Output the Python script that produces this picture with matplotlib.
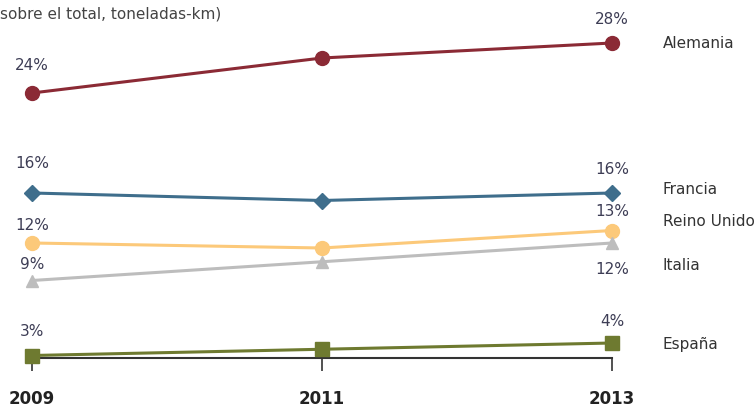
import matplotlib
matplotlib.use('Agg')
import matplotlib.pyplot as plt

plt.rcParams['font.family'] = ['Liberation Sans Narrow', 'DejaVu Sans']

years = [2009, 2011, 2013]
countries = ['Alemania', 'Francia', 'Reino Unido', 'Italia', 'España']
alemania = [24, 26.8, 28]
francia = [16, 15.4, 16]
reino_unido = [12, 11.6, 13]
italia = [9, 10.5, 12]
espana = [3, 3.5, 4]
series = [alemania, francia, reino_unido, italia, espana]
start_labels = ['24%', '16%', '12%', '9%', '3%']
end_labels = ['28%', '16%', '13%', '12%', '4%']

colors = ['#8b2a35', '#3f6e8c', '#fcc97a', '#bdbdbd', '#6e7a30']
markers = ['o', 'D', 'o', '^', 's']
msizes = [10, 8, 10, 8, 10]
# pixel offsets for value labels (start, end)
start_off = [27, 30, 18, 16, 24]
end_off = [24, 24, 19, -26, 22]
name_off = [0, 3, 9, -22, -1]

fig = plt.figure(figsize=(7.56, 4.12), dpi=100)
ax = fig.add_axes([0, 54 / 412, 1, 358 / 412])
ax.set_xlim(2009 - 32 / 145, 2009 + 756 / 145 - 32 / 145)
ax.set_ylim(2.8, 2.8 + 358 / 12.5)

for vals, c, m, ms, lab0, lab1, o0, o1, no, name in zip(
        series, colors, markers, msizes, start_labels, end_labels,
        start_off, end_off, name_off, countries):
    ax.plot(years, vals, color=c, lw=2.2, marker=m, markersize=ms,
            clip_on=False, zorder=3)
    ax.annotate(lab0, (years[0], vals[0]), xytext=(0, o0),
                textcoords='offset pixels', ha='center', va='center',
                fontsize=11, color='#3d3d55')
    ax.annotate(lab1, (years[-1], vals[-1]), xytext=(0, o1),
                textcoords='offset pixels', ha='center', va='center',
                fontsize=11, color='#3d3d55')
    ax.annotate(name, (years[-1], vals[-1]), xytext=(51, no),
                textcoords='offset pixels', ha='left', va='center',
                fontsize=11, color='#333333')

for s in ['top', 'right', 'left']:
    ax.spines[s].set_visible(False)
ax.spines['bottom'].set_bounds(2009, 2013)
ax.spines['bottom'].set_color('#333333')
ax.spines['bottom'].set_linewidth(1.5)
ax.set_yticks([])
ax.set_xticks(years)
ax.set_xticklabels([str(y) for y in years], fontsize=12, fontweight='bold',
                   color='#222222')
ax.tick_params(axis='x', length=9, width=1.2, color='#333333', pad=14)

fig.text(0.0, 1 - 14 / 412, 'sobre el total, toneladas-km)', fontsize=11,
         color='#444444', ha='left', va='center')

fig.savefig('out.png', dpi=100)
